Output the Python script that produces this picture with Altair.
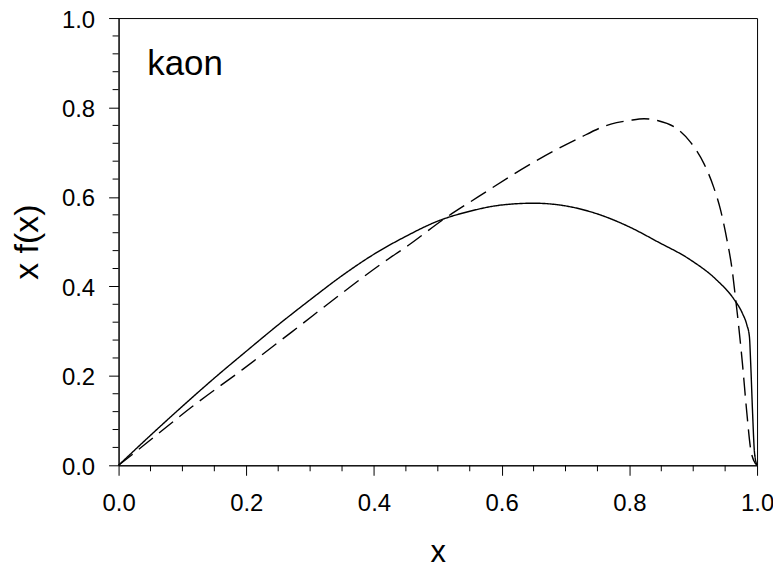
import altair as alt
import pandas as pd

# ---- data ----
solid_x = [0.0, 0.05, 0.1, 0.15, 0.2, 0.25, 0.3, 0.35, 0.4, 0.45, 0.5, 0.55,
           0.6, 0.65, 0.7, 0.75, 0.8, 0.844, 0.896, 0.937, 0.964, 0.977, 0.984,
           0.988, 0.990, 0.993, 0.996, 1.0]
solid_y = [0.0, 0.067, 0.132, 0.195, 0.255, 0.314, 0.370, 0.424, 0.472, 0.512, 0.546, 0.568,
           0.582, 0.586, 0.580, 0.562, 0.533, 0.5, 0.459, 0.414, 0.371, 0.340, 0.314,
           0.288, 0.229, 0.117, 0.028, 0.0]

dashed_x = [0.0, 0.038, 0.116, 0.194, 0.272, 0.35, 0.412, 0.454, 0.511, 0.563, 0.641,
            0.719, 0.771, 0.8, 0.823, 0.844, 0.875, 0.896, 0.917, 0.932, 0.943, 0.953,
            0.961, 0.966, 0.969, 0.977, 0.984, 0.990, 0.995, 1.0]
dashed_y = [0.0, 0.043, 0.132, 0.214, 0.299, 0.385, 0.451, 0.492, 0.552, 0.6, 0.670,
            0.73, 0.763, 0.771, 0.775, 0.771, 0.752, 0.722, 0.674, 0.622, 0.570, 0.503,
            0.437, 0.377, 0.34, 0.229, 0.117, 0.036, 0.01, 0.0]

x_major = [0.0, 0.2, 0.4, 0.6, 0.8, 1.0]
y_major = [0.0, 0.2, 0.4, 0.6, 0.8, 1.0]
x_minor = [0.05, 0.1, 0.15, 0.25, 0.3, 0.35, 0.45, 0.5, 0.55, 0.65, 0.7, 0.75,
           0.85, 0.9, 0.95]
y_minor = [0.04, 0.08, 0.12, 0.16, 0.24, 0.28, 0.32, 0.36, 0.44, 0.48, 0.52, 0.56,
           0.64, 0.68, 0.72, 0.76, 0.84, 0.88, 0.92, 0.96]

label_text = ["kaon"]
label_x = [0.045]
label_y = [0.872]

# ---- tables ----
rows = []
for i, (xv, yv) in enumerate(zip(solid_x, solid_y)):
    rows.append({"x": xv, "y": yv, "curve": "solid", "i": i})
for i, (xv, yv) in enumerate(zip(dashed_x, dashed_y)):
    rows.append({"x": xv, "y": yv, "curve": "dashed", "i": i})
df = pd.DataFrame(rows)
df_label = pd.DataFrame({"x": label_x, "y": label_y, "t": label_text})
df_xminor = pd.DataFrame({"x": x_minor})
df_yminor = pd.DataFrame({"y": y_minor})

FONT = "Liberation Sans"
W, H = 641, 449

x_axis = alt.Axis(
    values=x_major, format=".1f", title="x", grid=False,
    domainColor="black", tickColor="black", tickSize=10,
    labelFont=FONT, labelFontSize=24, labelColor="black",
    labelPadding=16, labelFlush=False, labelOverlap=False,
    titleFont=FONT, titleFontSize=31, titleFontWeight="normal", titleColor="black",
    titleBaseline="alphabetic", titleX=320.5, titleY=97, titleAnchor="middle",
)
y_axis = alt.Axis(
    values=y_major, format=".1f", title="x f(x)", grid=False,
    domainColor="black", tickColor="black", tickSize=10,
    labelFont=FONT, labelFontSize=24, labelColor="black",
    labelPadding=14, labelOffset=2, labelFlush=False, labelOverlap=False,
    titleFont=FONT, titleFontSize=34, titleFontWeight="normal", titleColor="black",
    titleBaseline="alphabetic", titleX=-81, titleY=224.5, titleAngle=-90,
    titleAlign="center",
)

xs = alt.Scale(domain=[0, 1], nice=False, zero=False)
ys = alt.Scale(domain=[0, 1], nice=False, zero=False)

lines = alt.Chart(df).mark_line(color="black", strokeWidth=1.4, interpolate="monotone").encode(
    x=alt.X("x:Q", scale=xs, axis=x_axis),
    y=alt.Y("y:Q", scale=ys, axis=y_axis),
    strokeDash=alt.StrokeDash(
        "curve:N",
        scale=alt.Scale(domain=["solid", "dashed"], range=[[1, 0], [18, 8]]),
        legend=None,
    ),
    order="i:Q",
)

xminor = alt.Chart(df_xminor).mark_rule(color="black", strokeWidth=1).encode(
    x=alt.X("x:Q", scale=xs, axis=x_axis),
    y=alt.value(H),
    y2=alt.value(H + 6),
)
yminor = alt.Chart(df_yminor).mark_rule(color="black", strokeWidth=1).encode(
    y=alt.Y("y:Q", scale=ys, axis=y_axis),
    x=alt.value(0),
    x2=alt.value(-6),
)

label = alt.Chart(df_label).mark_text(
    align="left", baseline="alphabetic", font=FONT, fontSize=35, color="black"
).encode(
    x=alt.X("x:Q", scale=xs, axis=x_axis),
    y=alt.Y("y:Q", scale=ys, axis=y_axis),
    text="t:N",
)

chart = alt.layer(lines, xminor, yminor, label).properties(
    width=W,
    height=H,
    background="white",
    autosize=alt.AutoSizeParams(type="none"),
    padding={"left": 111, "top": 9, "right": 16, "bottom": 100},
).configure_view(stroke="black", strokeWidth=1)

chart.save("out.html", embed_options={"renderer": "svg", "actions": False})
